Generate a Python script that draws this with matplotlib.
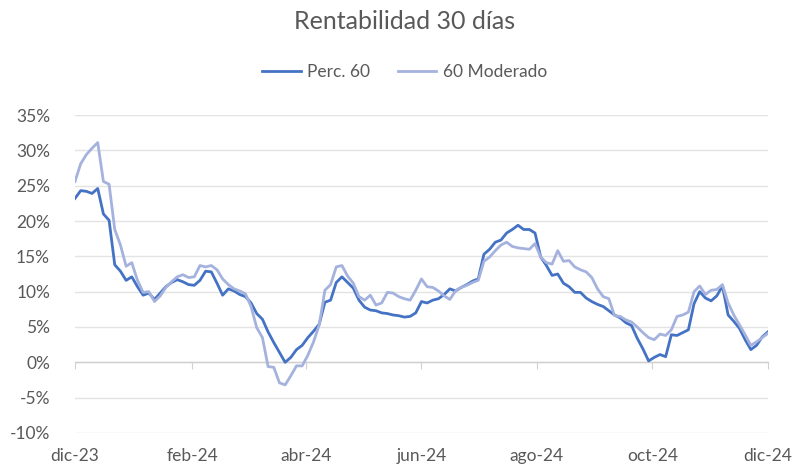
import numpy as np
import pandas as pd
import matplotlib
matplotlib.use("Agg")
import matplotlib.pyplot as plt
import matplotlib.dates as mdates

# serie cada 3 dias desde dic-23
fechas = pd.date_range("2023-12-01", periods=123, freq="3D")

perc60 = [
    23.2, 24.3, 24.2, 23.9, 24.6, 21.0, 20.1, 13.8, 12.9, 11.6,
    12.1, 10.7, 9.5, 9.8, 8.9, 9.8, 10.7, 11.3, 11.7, 11.4,
    11.0, 10.9, 11.6, 12.9, 12.8, 11.2, 9.5, 10.4, 10.1, 9.6,
    9.3, 8.4, 6.9, 6.1, 4.3, 2.8, 1.4, 0.0, 0.7, 1.8,
    2.4, 3.5, 4.4, 5.4, 8.5, 8.8, 11.3, 12.1, 11.3, 10.5,
    8.8, 7.8, 7.4, 7.3, 7.0, 6.9, 6.7, 6.6, 6.4, 6.5,
    7.0, 8.6, 8.4, 8.8, 9.0, 9.6, 10.4, 10.1, 10.6, 11.0,
    11.5, 11.8, 15.3, 16.0, 17.0, 17.3, 18.3, 18.8, 19.4, 18.8,
    18.8, 18.3, 14.9, 13.7, 12.3, 12.5, 11.2, 10.7, 9.9, 9.9,
    9.1, 8.6, 8.2, 7.9, 7.3, 6.7, 6.3, 5.6, 5.2, 3.4,
    1.9, 0.2, 0.7, 1.1, 0.8, 3.9, 3.8, 4.2, 4.6, 8.3,
    10.0, 9.1, 8.7, 9.4, 10.8, 6.7, 5.8, 4.8, 3.2, 1.8,
    2.4, 3.6, 4.3,
]

moderado60 = [
    25.6, 28.1, 29.4, 30.3, 31.1, 25.6, 25.2, 18.8, 16.6, 13.6,
    14.1, 11.6, 9.9, 10.0, 8.6, 9.4, 10.6, 11.4, 12.1, 12.4,
    12.0, 12.1, 13.7, 13.5, 13.7, 13.1, 11.8, 11.0, 10.4, 10.1,
    9.7, 7.9, 4.9, 3.5, -0.6, -0.7, -2.9, -3.2, -1.9, -0.5,
    -0.5, 1.0, 2.9, 5.3, 10.2, 11.0, 13.5, 13.7, 12.2, 11.2,
    9.3, 8.8, 9.5, 8.1, 8.4, 9.9, 9.8, 9.3, 9.0, 8.8,
    10.2, 11.8, 10.7, 10.6, 10.1, 9.4, 8.9, 10.1, 10.6, 10.9,
    11.3, 11.6, 14.3, 14.9, 15.8, 16.6, 17.0, 16.4, 16.2, 16.1,
    16.0, 16.8, 14.9, 14.1, 13.9, 15.8, 14.3, 14.4, 13.5, 13.1,
    12.8, 12.0, 10.4, 9.3, 9.0, 6.6, 6.5, 6.0, 5.7, 5.0,
    4.2, 3.5, 3.2, 4.0, 3.8, 4.6, 6.5, 6.7, 7.1, 10.0,
    10.8, 9.6, 10.2, 10.3, 11.0, 8.4, 6.7, 5.3, 3.9, 2.4,
    2.9, 3.5, 4.1,
]

ticks_x = ["2023-12-01", "2024-02-01", "2024-04-01", "2024-06-01",
           "2024-08-01", "2024-10-01", "2024-12-01"]
etiquetas_x = ["dic-23", "feb-24", "abr-24", "jun-24", "ago-24", "oct-24", "dic-24"]
ticks_y = [-10, -5, 0, 5, 10, 15, 20, 25, 30, 35]

gris = "#595959"
plt.rcParams["font.family"] = ["Lato", "DejaVu Sans"]

fig = plt.figure(figsize=(8.1, 4.71), dpi=100)
ax = fig.add_axes([0.0926, 0.0807, 0.8554, 0.6751])

ax.plot(fechas, perc60, color="#4472c4", lw=2.0, label="Perc. 60", zorder=3)
ax.plot(fechas, moderado60, color="#a4b2dd", lw=2.0, label="60 Moderado", zorder=4)

ax.set_ylim(-10, 35)
ax.set_xlim(pd.Timestamp(ticks_x[0]), pd.Timestamp(ticks_x[-1]))
ax.set_yticks(ticks_y)
ax.set_yticklabels([f"{v}%" for v in ticks_y])
ax.yaxis.grid(True, color="#e3e3e3", lw=1.0)
ax.set_axisbelow(True)
ax.tick_params(axis="y", length=0, pad=18, labelsize=12.5, labelcolor=gris)

for s in ["top", "right", "left"]:
    ax.spines[s].set_visible(False)
# eje x sobre el 0%
ax.spines["bottom"].set_position(("data", 0))
ax.spines["bottom"].set_color("#d0d0d0")
ax.spines["bottom"].set_linewidth(1.0)
ax.set_xticks(pd.to_datetime(ticks_x))
ax.tick_params(axis="x", direction="out", length=5, color="#d0d0d0", labelbottom=False)

# etiquetas abajo
sec = ax.secondary_xaxis(0.0)
sec.set_xticks(pd.to_datetime(ticks_x))
sec.set_xticklabels(etiquetas_x)
sec.tick_params(length=0, pad=11, labelsize=12.5, labelcolor=gris)
sec.spines["bottom"].set_visible(False)

fig.text(0.5, 0.955, "Rentabilidad 30 días", ha="center", va="center",
         fontsize=18, color=gris)
fig.legend(loc="center", bbox_to_anchor=(0.5, 0.847), ncol=2, frameon=False,
           fontsize=12.5, labelcolor=gris, handlelength=2.2, columnspacing=1.6,
           handletextpad=0.4)

fig.savefig("out.png", dpi=100)
